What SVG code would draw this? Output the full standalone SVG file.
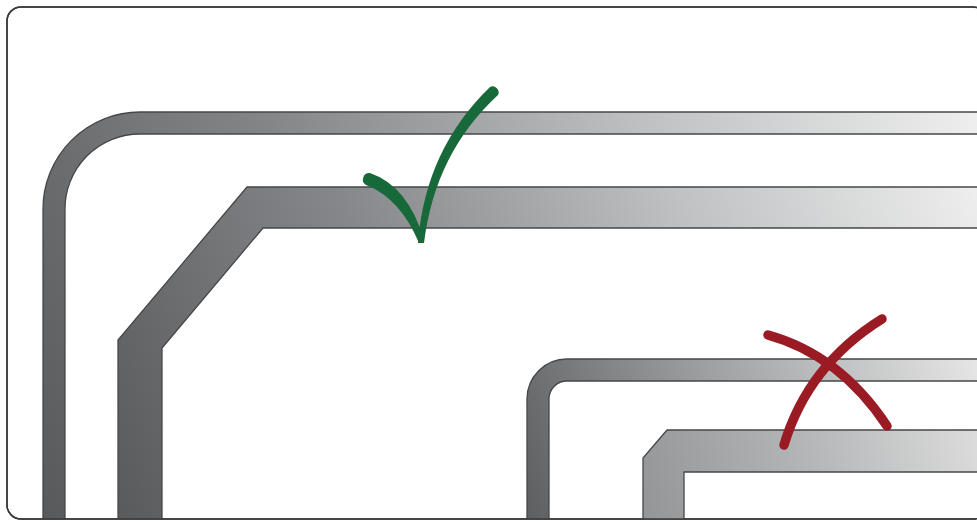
<svg xmlns="http://www.w3.org/2000/svg" width="977" height="522" viewBox="0 0 977 522">
<defs>
<style>
.trace{stroke:#454749;stroke-width:1.3;stroke-linejoin:miter}
.mark{fill:none;stroke-linecap:round;stroke-linejoin:round}
.ok{fill:#17693a}
</style>
<clipPath id="frameClip"><rect x="7" y="7" width="980" height="512" rx="14"/></clipPath>
<linearGradient id="g1" gradientUnits="userSpaceOnUse" x1="43" y1="520" x2="977" y2="112">
<stop offset="0" stop-color="#58595b"/><stop offset="0.35" stop-color="#828486"/><stop offset="0.7" stop-color="#bfc1c2"/><stop offset="1" stop-color="#efefef"/>
</linearGradient>
<linearGradient id="g2" gradientUnits="userSpaceOnUse" x1="118" y1="520" x2="977" y2="187">
<stop offset="0" stop-color="#595a5c"/><stop offset="0.35" stop-color="#85878a"/><stop offset="0.7" stop-color="#c0c2c3"/><stop offset="1" stop-color="#eeeeee"/>
</linearGradient>
<linearGradient id="g3" gradientUnits="userSpaceOnUse" x1="527" y1="520" x2="977" y2="359">
<stop offset="0" stop-color="#5c5e60"/><stop offset="0.45" stop-color="#9c9ea0"/><stop offset="1" stop-color="#e6e6e6"/>
</linearGradient>
<linearGradient id="g4" gradientUnits="userSpaceOnUse" x1="643" y1="520" x2="977" y2="430">
<stop offset="0" stop-color="#939597"/><stop offset="0.5" stop-color="#b3b5b6"/><stop offset="1" stop-color="#dcdcdc"/>
</linearGradient>
</defs>
<rect width="977" height="522" fill="#ffffff"/>
<rect id="frame" x="7" y="7" width="980" height="512" rx="14" fill="#ffffff" stroke="#3a3a3a" stroke-width="1.5"/>
<g id="traces" clip-path="url(#frameClip)">
<path id="trace-rounded-large" class="trace" fill="url(#g1)" d="M995,112 H140 A97,97 0 0 0 43,209 V535 H65 V210 A75,75 0 0 1 140,134 H995 Z"/>
<path id="trace-chamfer-large" class="trace" fill="url(#g2)" d="M995,187 H247 L118,340 V535 H162 V348 L263,228 H995 Z"/>
<path id="trace-rounded-small" class="trace" fill="url(#g3)" d="M995,359 H567 A40,40 0 0 0 527,399 V535 H549 V399 A18,18 0 0 1 567,381 H995 Z"/>
<path id="trace-chamfer-small" class="trace" fill="url(#g4)" d="M995,430 H667 L643,458 V535 H684 V472 H995 Z"/>
</g>
<rect x="7" y="7" width="980" height="512" rx="14" fill="none" stroke="#3a3a3a" stroke-width="1.5"/>
<g id="check">
<path class="ok" d="M370,173 Q408,186 424,240 L419,243 Q400,198 366,185 A6.5,6.5 0 0 1 370,173 Z"/>
<path class="ok" d="M418,243 Q425,150 490,87 A6,6 0 0 1 498,95 Q435,153 424,243 Z"/>
</g>
<g id="cross">
<path class="mark" stroke="#9a1b24" stroke-width="9.5" d="M768,335 Q840,355 887,426"/>
<path class="mark" stroke="#9a1b24" stroke-width="9.5" d="M882,319 Q808,365 784,445"/>
</g>
</svg>
